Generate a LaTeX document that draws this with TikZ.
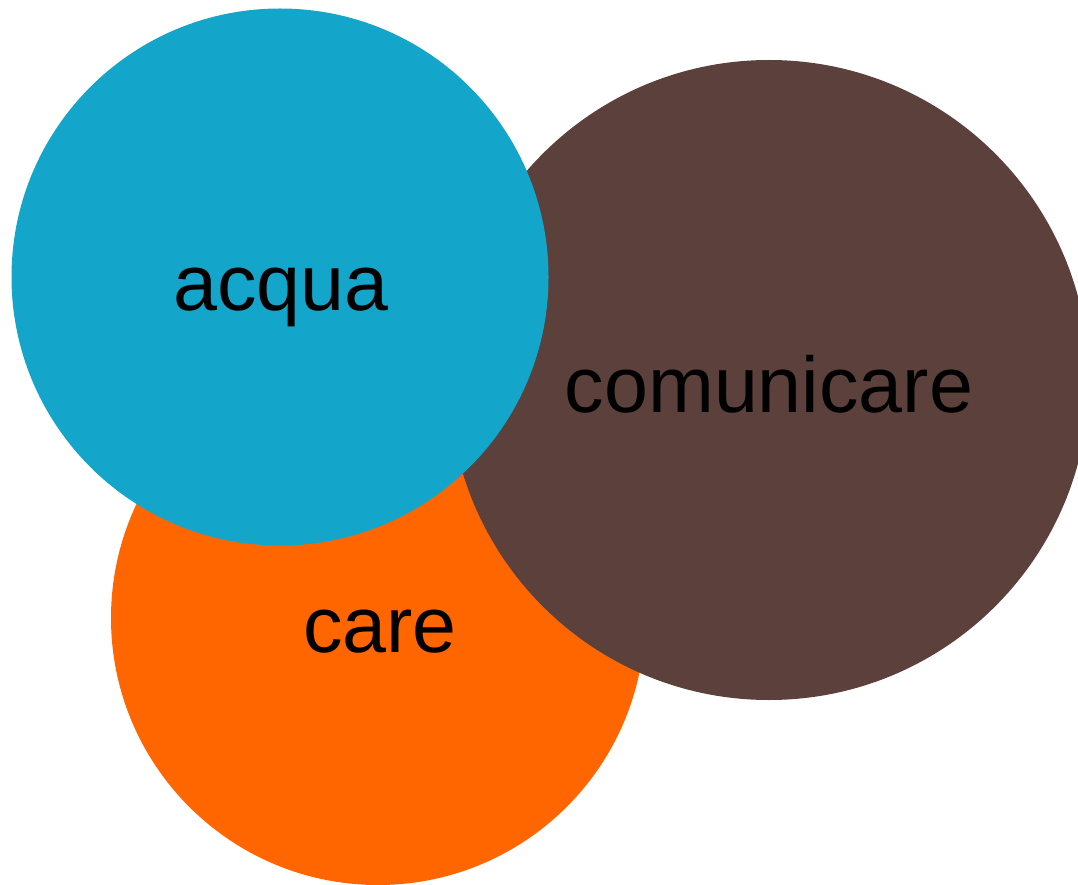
\documentclass[tikz,border=0pt]{standalone}
\usepackage{fontspec}
\setmainfont{Liberation Sans}
\definecolor{cblue}{HTML}{14A6CA}
\definecolor{cbrown}{HTML}{5C403C}
\definecolor{corange}{HTML}{FF6600}
\begin{document}
\begin{tikzpicture}[x=1pt,y=-1pt,
  bubble/.style={circle,inner sep=0pt,draw=none},
  lbl/.style={font=\fontsize{79}{90}\selectfont,text=black,anchor=base,inner sep=0pt}]
\useasboundingbox (0,0) rectangle (1078,885);
\begin{scope}
\clip (0,0) rectangle (1078,885);
\node[bubble,fill=corange,minimum size=534pt] (care) at (378,618) {};
\node[bubble,fill=cbrown,minimum size=640pt] (comunicare) at (769,380) {};
\node[bubble,fill=cblue,minimum size=537pt] (acqua) at (280,277) {};
\end{scope}
\node[lbl] (tacqua) at (281,310) {acqua};
\node[lbl] (tcom) at (769,412) {comunicare};
\node[lbl] (tcare) at (380,652) {care};
\end{tikzpicture}
\end{document}
